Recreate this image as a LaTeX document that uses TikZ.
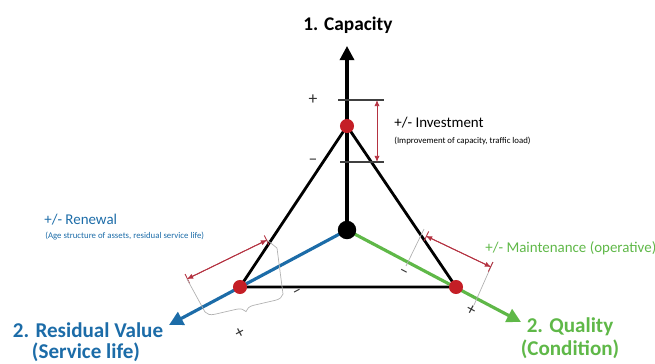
\documentclass[tikz,border=0pt]{standalone}
\usepackage{fontspec}
\setmainfont{Carlito}
\usetikzlibrary{arrows.meta,decorations.pathreplacing,backgrounds}
\definecolor{rvblue}{RGB}{28,108,168}
\definecolor{qgreen}{RGB}{95,184,72}
\definecolor{dotred}{RGB}{196,30,38}
\definecolor{spanred}{RGB}{180,50,65}
\tikzset{
  hub/.style={circle,fill=black,inner sep=0pt,minimum size=10.5pt},
  dot/.style={circle,fill=dotred,inner sep=0pt,minimum size=8pt},
  side/.style={line width=1.6pt},
  axis/.style={line width=1.8pt,-{Triangle[length=8pt,width=8pt]}},
  span/.style={spanred,line width=0.5pt,{Latex[length=3.5pt,width=3pt]}-{Latex[length=3.5pt,width=3pt]}},
  spanbar/.style={span,postaction={draw,{Bar[width=6pt]}-{Bar[width=6pt]}}},
  guide/.style={black!75,line width=0.6pt},
  faint/.style={gray!60,line width=0.4pt},
  title/.style={font=\bfseries\fontsize{12}{14}\selectfont,inner sep=0pt},
  note/.style={font=\fontsize{8.5}{10}\selectfont,inner sep=0pt,anchor=west},
  small/.style={font=\fontsize{5}{6}\selectfont,inner sep=0pt,anchor=west},
  sign/.style={font=\fontsize{10}{11}\selectfont,inner sep=0pt,black!80}
}
\begin{document}
\begin{tikzpicture}[x=0.02cm,y=-0.02cm]
  \useasboundingbox (0,0) rectangle (655,363);
  \node[hub] (O) at (347,230) {};
  \node[dot] (C) at (347,126) {}; \node[dot] (R) at (240,287) {};
  \node[dot] (Q) at (456,287) {};
  \coordinate (Ct) at (347,46); \coordinate (Rt) at (169,325); \coordinate (Qt) at (521,322);
  \begin{scope}[on background layer]
    \draw[side] (C.center)--(R.center)--(Q.center)--cycle;
    \draw[axis] (O.center)--(Ct);
    \draw[axis,rvblue] (O.center)--(Rt);
    \draw[axis,qgreen] (O.center)--(Qt);
  \end{scope}
  \node[title,font=\bfseries\fontsize{11}{13}\selectfont] (Ctxt) at (348,25) {1. Capacity};
  \node[title,rvblue] (Rtxt) at (88,330) {2. Residual Value};
  \node[title,rvblue] (Rsub) at (86,352) {(Service life)};
  \node[title,qgreen] (Qtxt) at (570,327) {2. Quality};
  \node[title,qgreen] (Qsub) at (570,349) {(Condition)};
  % investment
  \coordinate (I1) at (338,100); \coordinate (I2) at (384,100);
  \coordinate (I3) at (340,162); \coordinate (I4) at (384,162);
  \coordinate (Ia) at (377,100); \coordinate (Ib) at (377,162);
  \draw[guide] (I1)--(I2); \draw[guide] (I3)--(I4);
  \draw[span] (Ia)--(Ib);
  \node[sign] (Ip) at (313,100) {+}; \node[sign] (Im) at (313,162) {–};
  \node[note] (Itxt) at (394,123) {+/- Investment};
  \node[small] (Isub) at (394,141) {(Improvement of capacity, traffic load)};
  % renewal
  \coordinate (R1) at (187,279); \coordinate (R2) at (267,240);
  \coordinate (B1) at (205,312); \coordinate (B2) at (283,294); \coordinate (B3) at (277,248);
  \draw[spanbar] (R1)--(R2);
  \draw[faint] (R1)--(B1); \draw[faint] (B2)--(B3)--(R2);
  \draw[faint,decorate,decoration={brace,amplitude=5pt}] (B2)--(B1);
  \node[sign,rotate=28] (Rp) at (240,333) {+}; \node[sign,rotate=28] (Rm) at (298,293) {–};
  \node[note,rvblue] (Rnote) at (44,220) {+/- Renewal};
  \node[small,rvblue] (Rsmall) at (45,236) {(Age structure of assets, residual service life)};
  % maintenance
  \coordinate (M1) at (426,236); \coordinate (M2) at (491,267);
  \coordinate (G1) at (424,229); \coordinate (G2) at (406,266);
  \coordinate (G3) at (493,262); \coordinate (G4) at (474,305);
  \draw[faint] (G1)--(G2); \draw[faint] (G3)--(G4);
  \draw[spanbar] (M1)--(M2);
  \node[sign,rotate=-28] (Mm) at (403,273) {–}; \node[sign,rotate=-28] (Mp) at (471,310) {+};
  \node[note,qgreen] (Mtxt) at (485,248) {+/- Maintenance (operative)};
\end{tikzpicture}
\end{document}
